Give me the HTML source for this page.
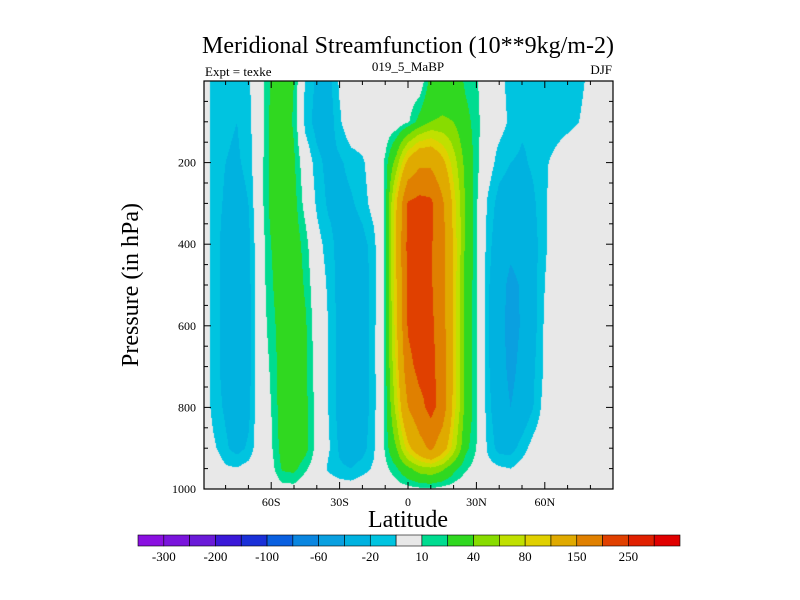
<!DOCTYPE html>
<html><head><meta charset="utf-8"><style>
body{margin:0;background:#fff;width:800px;height:600px;overflow:hidden;font-family:"Liberation Serif",serif;}
#wrap{position:relative;width:800px;height:600px;}
canvas{position:absolute;left:0;top:0;}
svg{position:absolute;left:0;top:0;}
</style></head><body>
<div id="wrap">
<canvas id="cv" width="800" height="600"></canvas>
<svg id="sv" width="800" height="600"></svg>
</div>
<script>
const lats=[-90,-85,-80,-75,-70,-65,-60,-55,-50,-45,-40,-35,-30,-25,-20,-15,-10,-5,0,5,10,15,20,25,30,35,40,45,50,55,60,65,70,75,80,85,90];
const pressures=[0,100,200,300,400,500,600,700,800,900,950,1000];
const row0=[0,-15,-18,-18,-12,2,22,30,20,-12,-22,-25,-8,0,0,0,0,0,0,0,25,30,30,18,12,-2,-5,-15,-15,-15,-15,-15,-15,-15,-5,0,0];
const row100=[0,-15,-18,-20,-14,2,24,30,18,-14,-25,-28,-12,0,0,0,0,0,8,25,40,42,40,25,15,-2,-5,-12,-18,-18,-18,-16,-14,-10,-2,0,0];
const row200=[0,-15,-20,-22,-16,3,25,30,22,0,-16,-24,-22,-16,-12,-2,12,50,110,140,140,110,70,35,14,-3,-15,-20,-22,-18,-12,-6,0,0,0,0,0];
const row300=[0,-15,-22,-28,-20,3,25,30,25,5,-12,-22,-25,-22,-15,-5,12,100,205,215,210,160,90,40,12,-12,-25,-28,-28,-22,-12,-2,0,0,0,0,0];
const row400=[0,-15,-25,-30,-24,2,20,30,28,15,-5,-15,-25,-30,-25,-14,13,105,215,232,205,170,95,38,12,-15,-30,-35,-32,-25,-12,-2,0,0,0,0,0];
const row500=[0,-15,-25,-30,-25,2,18,30,30,18,0,-12,-25,-32,-28,-15,13,100,212,232,205,170,95,35,12,-18,-32,-45,-38,-25,-10,0,0,0,0,0,0];
const row600=[0,-15,-25,-30,-25,2,15,28,30,22,2,-10,-25,-32,-28,-14,13,95,205,228,210,172,95,35,12,-18,-32,-48,-38,-25,-8,0,0,0,0,0,0];
const row700=[0,-15,-25,-30,-25,0,12,28,30,22,4,-10,-25,-32,-28,-14,13,85,185,215,215,178,95,35,12,-18,-32,-45,-35,-22,-8,0,0,0,0,0,0];
const row800=[0,-15,-22,-28,-24,0,10,28,32,24,5,-10,-25,-32,-28,-14,12,70,150,185,215,180,90,35,12,-16,-30,-40,-32,-20,-5,0,0,0,0,0,0];
const row900=[0,-8,-18,-25,-18,0,8,26,32,25,5,-8,-22,-28,-25,-12,12,40,90,130,160,120,70,25,10,-12,-25,-25,-15,-5,0,0,0,0,0,0,0];
const row950=[0,0,-8,-9,-5,0,5,22,24,12,2,-12,-18,-20,-15,-8,6,18,35,50,55,45,25,12,5,-5,-8,-10,-5,0,0,0,0,0,0,0,0];
const row1000=[0,0,0,0,0,0,0,5,5,0,0,0,-2,-3,0,0,0,3,5,7,8,5,3,0,0,0,0,0,0,0,0,0,0,0,0,0,0];
const field=[row0,row100,row200,row300,row400,row500,row600,row700,row800,row900,row950,row1000];
const levels=[-300,-250,-200,-150,-100,-80,-60,-40,-20,-10,10,20,40,60,80,100,150,200,250,300];
const colors=["#8a10e0","#7a14dc","#6a1ad8","#3a18d8","#1a30d8","#0a60e0","#0a86e0","#0aa0e0","#00b2e0","#00c4e0","#e8e8e8","#00dc90","#30d820","#88dc00","#c0e000","#e0d000","#e0aa00","#e08000","#e04000","#e02000","#e00000"];
const tickLabelsBar=["-300","-200","-100","-60","-20","10","40","80","150","250"];
const xTicks=[-60,-30,0,30,60];
const xTickLabels=["60S","30S","0","30N","60N"];
const yTicks=[200,400,600,800,1000];

const PL=204,PR=613,PT=81,PB=489;
const xs=lat=>408+lat*2.28;
const ys=p=>PT+(p/1000)*(PB-PT);
function levelIndex(v){let i=0;while(i<levels.length&&v>=levels[i])i++;return i;}
function sample(lat,p){
  let i=Math.min(Math.max(Math.floor((lat-lats[0])/5),0),lats.length-2);
  let tx=(lat-lats[i])/(lats[i+1]-lats[i]);tx=Math.max(0,Math.min(1,tx));
  let j=0;while(j<pressures.length-2&&p>pressures[j+1])j++;
  let ty=(p-pressures[j])/(pressures[j+1]-pressures[j]);ty=Math.max(0,Math.min(1,ty));
  const a=field[j][i],b=field[j][i+1],c=field[j+1][i],d=field[j+1][i+1];
  return (a*(1-tx)+b*tx)*(1-ty)+(c*(1-tx)+d*tx)*ty;
}
function hex(c){return [parseInt(c.substr(1,2),16),parseInt(c.substr(3,2),16),parseInt(c.substr(5,2),16)];}
const rgb=colors.map(hex);
const cv=document.getElementById('cv');const ctx=cv.getContext('2d');
const img=ctx.createImageData(PR-PL,PB-PT);
for(let y=0;y<PB-PT;y++){for(let x=0;x<PR-PL;x++){
  const lat=(PL+x+0.5-408)/2.28,p=(y+0.5)/(PB-PT)*1000;
  const c=rgb[levelIndex(sample(lat,p))];const k=(y*(PR-PL)+x)*4;
  img.data[k]=c[0];img.data[k+1]=c[1];img.data[k+2]=c[2];img.data[k+3]=255;}}
ctx.putImageData(img,PL,PT);

const NS="http://www.w3.org/2000/svg";const sv=document.getElementById('sv');
function el(t,a,txt){const e=document.createElementNS(NS,t);for(const k in a)e.setAttribute(k,a[k]);if(txt!==undefined)e.textContent=txt;sv.appendChild(e);return e;}
let e;
e=el('rect',{x:PL,y:PT,width:PR-PL,height:PB-PT,fill:'none',stroke:'#000','stroke-width':1.2});


for(let lat=-80;lat<=80;lat+=10){const len=(lat%30===0)?7:4;
  e=el('line',{x1:xs(lat),x2:xs(lat),y1:PB,y2:PB-len,stroke:'#000'});
  
  
  e=el('line',{x1:xs(lat),x2:xs(lat),y1:PT,y2:PT+len,stroke:'#000'});
  
  }
for(let p=50;p<1000;p+=50){const len=(p%200===0)?7:4;
  e=el('line',{x1:PL,x2:PL+len,y1:ys(p),y2:ys(p),stroke:'#000'});
  
  
  e=el('line',{x1:PR,x2:PR-len,y1:ys(p),y2:ys(p),stroke:'#000'});
  
  }
xTicks.forEach((t,i)=>{e=el('text',{x:xs(t),y:506,'text-anchor':'middle','font-size':12,'font-family':'Liberation Serif, serif'},xTickLabels[i]);
  
  });
yTicks.forEach(t=>{e=el('text',{x:196,y:ys(t)+4,'text-anchor':'end','font-size':12,'font-family':'Liberation Serif, serif'},String(t));
  
  });
e=el('text',{x:408,y:53,'text-anchor':'middle','font-size':24,'font-family':'Liberation Serif, serif'},'Meridional Streamfunction (10**9kg/m-2)');


e=el('text',{x:205,y:76,'font-size':13,'font-family':'Liberation Serif, serif'},'Expt = texke');


e=el('text',{x:408,y:71,'text-anchor':'middle','font-size':13,'font-family':'Liberation Serif, serif'},'019_5_MaBP');


e=el('text',{x:612,y:74,'text-anchor':'end','font-size':13,'font-family':'Liberation Serif, serif'},'DJF');


e=el('text',{x:408,y:527,'text-anchor':'middle','font-size':24,'font-family':'Liberation Serif, serif'},'Latitude');


e=el('text',{x:0,y:0,'text-anchor':'middle','font-size':24,'font-family':'Liberation Serif, serif',transform:'translate(138,285) rotate(-90)'},'Pressure (in hPa)');


const BL=138,BR=680,BT=535,BH=11,bw=(BR-BL)/colors.length;
colors.forEach((c,i)=>{e=el('rect',{x:BL+i*bw,y:BT,width:bw,height:BH,fill:c,stroke:'#000','stroke-width':0.6});
  
  });
tickLabelsBar.forEach((t,i)=>{e=el('text',{x:BL+(2*i+1)*bw,y:561,'text-anchor':'middle','font-size':13,'font-family':'Liberation Serif, serif'},t);
  
  });
</script>
</body></html>
